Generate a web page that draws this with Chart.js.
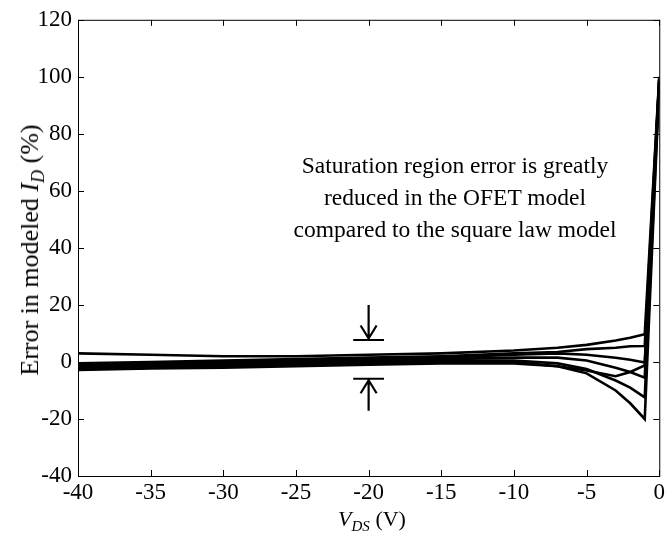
<!DOCTYPE html>
<html>
<head>
<meta charset="utf-8">
<script src="https://cdn.jsdelivr.net/npm/chart.js@4"></script>
<style>
  html, body { margin: 0; padding: 0; background: #fff; }
  #wrap { position: relative; width: 668px; height: 537px; font-family: "Liberation Serif", "Times New Roman", serif; color: #000; }
  #c { position: absolute; left: 0; top: 0; }
  .lbl { position: absolute; white-space: nowrap; line-height: 1; }
  #note { left: 455px; top: 149px; transform: translateX(-50%); text-align: center; font-size: 23.5px; line-height: 32px; }
  #xt { left: 372px; top: 508px; transform: translateX(-50%); font-size: 22px; }
  #yt { left: 30px; top: 250px; transform: translate(-50%, -50%) rotate(-90deg); font-size: 26px; }
  #xt sub { font-size: 15px; vertical-align: -5px; line-height: 0; }
  #yt sub { font-size: 18px; vertical-align: -6px; line-height: 0; }
</style>
</head>
<body>
<div id="wrap">
  <canvas id="c" width="668" height="537"></canvas>
  <div class="lbl" id="note">Saturation region error is greatly<br>reduced in the OFET model<br>compared to the square law model</div>
  <div class="lbl" id="xt"><i>V<sub>DS</sub></i> (V)</div>
  <div class="lbl" id="yt">Error in modeled <i>I<sub>D</sub></i> (%)</div>
</div>
<script>
// ---- data ----
const vds = [-40, -35, -30, -25, -20, -15, -10, -7, -5, -3, -2, -1, 0];
const err1 = [3.0, 2.5, 2.0, 2.0, 2.5, 3.0, 4.0, 5.0, 6.0, 7.5, 8.5, 9.7, 100];
const err2 = [-0.5, 0.0, 0.5, 1.0, 1.5, 2.0, 3.0, 3.5, 4.5, 5.0, 5.5, 5.6, 99.5];
const err3 = [-1.0, -0.5, 0.0, 0.5, 1.0, 1.5, 2.5, 3.0, 2.5, 1.5, 0.8, -0.2, 99];
const err4 = [-1.5, -1.0, -0.5, 0.0, 0.5, 1.0, 1.5, 1.5, 0.5, -2.0, -3.5, -5.5, 98.5];
const err5 = [-2.0, -1.5, -1.0, -0.5, 0.0, 0.5, 0.5, -0.5, -2.5, -6.5, -9.0, -12.4, 98];
const err6 = [-2.5, -2.0, -1.5, -1.0, -0.5, 0.0, 0.0, -1.5, -4.0, -10.0, -14.5, -20.0, 97.5];
const err7 = [-2.8, -2.3, -2.0, -1.5, -1.0, -0.5, -0.5, -1.5, -3.0, -5.0, -3.5, -1.2, 99];
const allSeries = [err1, err2, err3, err4, err5, err6, err7];
const xTicks = { min: -40, max: 0, step: 5 };
const yTicks = { min: -40, max: 120, step: 20 };
// annotation arrows (data units): x, shaft start, bar level
const arrowX = -20;
const arrowTop = { from: 20, bar: 7.7 };
const arrowBot = { from: -17.1, bar: -5.9 };
const arrowBarHalf = 1.06;

const FONT = "Liberation Serif";

const frame = {
  id: 'frame',
  afterDraw(chart) {
    const { ctx, chartArea: a, scales: { x, y } } = chart;
    ctx.save();
    ctx.strokeStyle = '#000';
    ctx.lineWidth = 1;
    ctx.strokeRect(a.left + 0.5, a.top + 0.5, a.right - a.left, a.bottom - a.top);
    const tl = 6;
    ctx.beginPath();
    x.ticks.forEach(t => {
      const px = Math.round(x.getPixelForValue(t.value)) + 0.5;
      ctx.moveTo(px, a.bottom); ctx.lineTo(px, a.bottom - tl);
      ctx.moveTo(px, a.top); ctx.lineTo(px, a.top + tl);
    });
    y.ticks.forEach(t => {
      const py = Math.round(y.getPixelForValue(t.value)) + 0.5;
      ctx.moveTo(a.left, py); ctx.lineTo(a.left + tl, py);
      ctx.moveTo(a.right, py); ctx.lineTo(a.right - tl, py);
    });
    ctx.stroke();
    // arrows
    ctx.lineWidth = 2.2;
    ctx.lineCap = 'butt';
    const ax = x.getPixelForValue(arrowX);
    const bw = x.getPixelForValue(arrowX + arrowBarHalf) - ax;
    const drawArrow = (spec) => {
      const y0 = y.getPixelForValue(spec.from);
      const yb = y.getPixelForValue(spec.bar);
      const dir = yb > y0 ? 1 : -1;
      const tip = yb - dir * 1.5;
      ctx.beginPath();
      ctx.moveTo(ax, y0); ctx.lineTo(ax, tip);
      ctx.moveTo(ax - 8, tip - dir * 13); ctx.lineTo(ax, tip); ctx.lineTo(ax + 8, tip - dir * 13);
      ctx.moveTo(ax - bw, yb); ctx.lineTo(ax + bw, yb);
      ctx.stroke();
    };
    drawArrow(arrowTop);
    drawArrow(arrowBot);
    ctx.restore();
  }
};

new Chart(document.getElementById('c'), {
  type: 'line',
  data: {
    datasets: allSeries.map(s => ({
      data: vds.map((v, i) => ({ x: v, y: s[i] })),
      borderColor: '#000',
      borderWidth: 2.6,
      pointRadius: 0,
      tension: 0,
      fill: false
    }))
  },
  options: {
    responsive: false,
    animation: false,
    devicePixelRatio: 1,
    layout: { padding: { top: 17, right: 6, left: 0, bottom: 0 } },
    plugins: { legend: { display: false }, tooltip: { enabled: false } },
    scales: {
      x: {
        type: 'linear', min: xTicks.min, max: xTicks.max,
        ticks: { stepSize: xTicks.step, color: '#000', font: { family: FONT, size: 23 }, padding: 3, maxRotation: 0 },
        grid: { display: false, drawTicks: false },
        border: { display: false },
        afterFit(s) { s.height = 61; }
      },
      y: {
        type: 'linear', min: yTicks.min, max: yTicks.max,
        ticks: { stepSize: yTicks.step, color: '#000', font: { family: FONT, size: 23 }, padding: 6 },
        grid: { display: false, drawTicks: false },
        border: { display: false },
        afterFit(s) { s.width = 78; }
      }
    }
  },
  plugins: [frame]
});
</script>
</body>
</html>
